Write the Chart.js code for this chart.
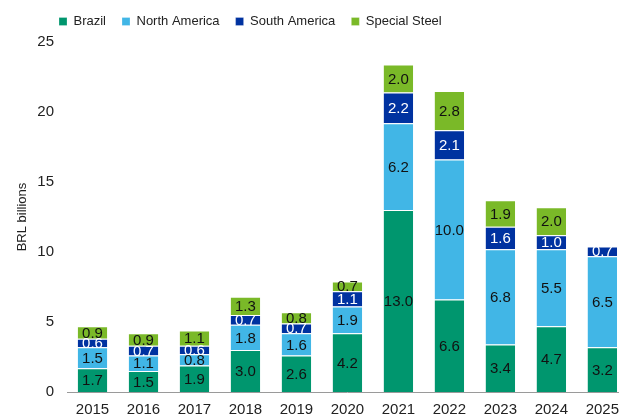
<!DOCTYPE html>
<html>
<head>
<meta charset="utf-8">
<script src="https://cdn.jsdelivr.net/npm/chart.js@4.4.1/dist/chart.umd.min.js"></script>
<style>
  html, body { margin: 0; padding: 0; background: #fff; overflow: hidden; width: 619px; height: 417px; }
  #wrap { width: 628px; height: 417px; }
</style>
</head>
<body>
<div id="wrap"><canvas id="c" width="628" height="417"></canvas></div>
<script>
const years = ['2015','2016','2017','2018','2019','2020','2021','2022','2023','2024','2025'];
const brazil       = [1.7, 1.5, 1.9, 3.0, 2.6, 4.2, 13.0, 6.6, 3.4, 4.7, 3.2];
const northAmerica = [1.5, 1.1, 0.8, 1.8, 1.6, 1.9, 6.2, 10.0, 6.8, 5.5, 6.5];
const southAmerica = [0.6, 0.7, 0.6, 0.7, 0.7, 1.1, 2.2, 2.1, 1.6, 1.0, 0.7];
const specialSteel = [0.9, 0.9, 1.1, 1.3, 0.8, 0.7, 2.0, 2.8, 1.9, 2.0, null];
const yTicks = [0, 5, 10, 15, 20, 25];

const FONT = '"Liberation Sans", Arial, sans-serif';
const labelColors = ['#111111', '#111111', '#ffffff', '#111111'];

const segLabels = {
  id: 'segLabels',
  afterDatasetsDraw(chart) {
    const ctx = chart.ctx;
    ctx.save();
    ctx.font = '15px ' + FONT;
    ctx.textAlign = 'center';
    ctx.textBaseline = 'middle';
    chart.data.datasets.forEach((ds, di) => {
      const meta = chart.getDatasetMeta(di);
      meta.data.forEach((bar, i) => {
        const v = ds.data[i];
        if (v == null) return;
        const p = bar.getProps(['x', 'y', 'base'], true);
        ctx.fillStyle = labelColors[di];
        ctx.fillText(v.toFixed(1), p.x, (p.y + p.base) / 2 + 1);
      });
    });
    ctx.restore();
  }
};

const legendShift = {
  id: 'legendShift',
  beforeDraw(chart) {
    const lg = chart.legend;
    if (!lg) return;
    lg.left = 59 - 16;
    lg.top = -1;
  }
};

function ds(label, data, color) {
  return {
    label, data,
    backgroundColor: color,
    borderColor: '#ffffff',
    borderWidth: {top: 1, left: 0, right: 0, bottom: 0},
    borderSkipped: false,
    barPercentage: 0.58,
    categoryPercentage: 1.0
  };
}

new Chart(document.getElementById('c'), {
  type: 'bar',
  data: {
    labels: years,
    datasets: [
      ds('Brazil', brazil, '#00966E'),
      ds('North America', northAmerica, '#41B6E6'),
      ds('South America', southAmerica, '#0032A0'),
      ds('Special Steel', specialSteel, '#7AB928')
    ]
  },
  options: {
    responsive: false,
    animation: false,
    devicePixelRatio: 1,
    layout: { padding: { top: 3, left: 0, right: 0, bottom: 0 } },
    plugins: {
      legend: {
        position: 'top',
        align: 'start',
        labels: {
          boxWidth: 8, boxHeight: 8, padding: 16,
          color: '#222',
          font: { family: FONT, size: 13 }
        }
      },
      tooltip: { enabled: false }
    },
    scales: {
      x: {
        stacked: true,
        grid: { display: false, drawTicks: false },
        border: { display: true, color: '#9a9a9a', width: 1 },
        ticks: { color: '#222', font: { family: FONT, size: 15 }, padding: 9, maxRotation: 0, autoSkip: false },
        afterFit(s) { s.height = 25; }
      },
      y: {
        stacked: true,
        min: 0, max: 25,
        afterBuildTicks(s) { s.ticks = yTicks.map(v => ({ value: v })); },
        grid: { display: false, drawTicks: false },
        border: { display: false },
        ticks: { color: '#222', font: { family: FONT, size: 15 }, padding: 13 },
        title: {
          display: true, text: 'BRL billions', color: '#222',
          font: { family: FONT, size: 13 }, padding: { top: 15, bottom: 6 }
        },
        afterFit(s) { s.width = 67; }
      }
    }
  },
  plugins: [segLabels, legendShift]
});
</script>
</body>
</html>
